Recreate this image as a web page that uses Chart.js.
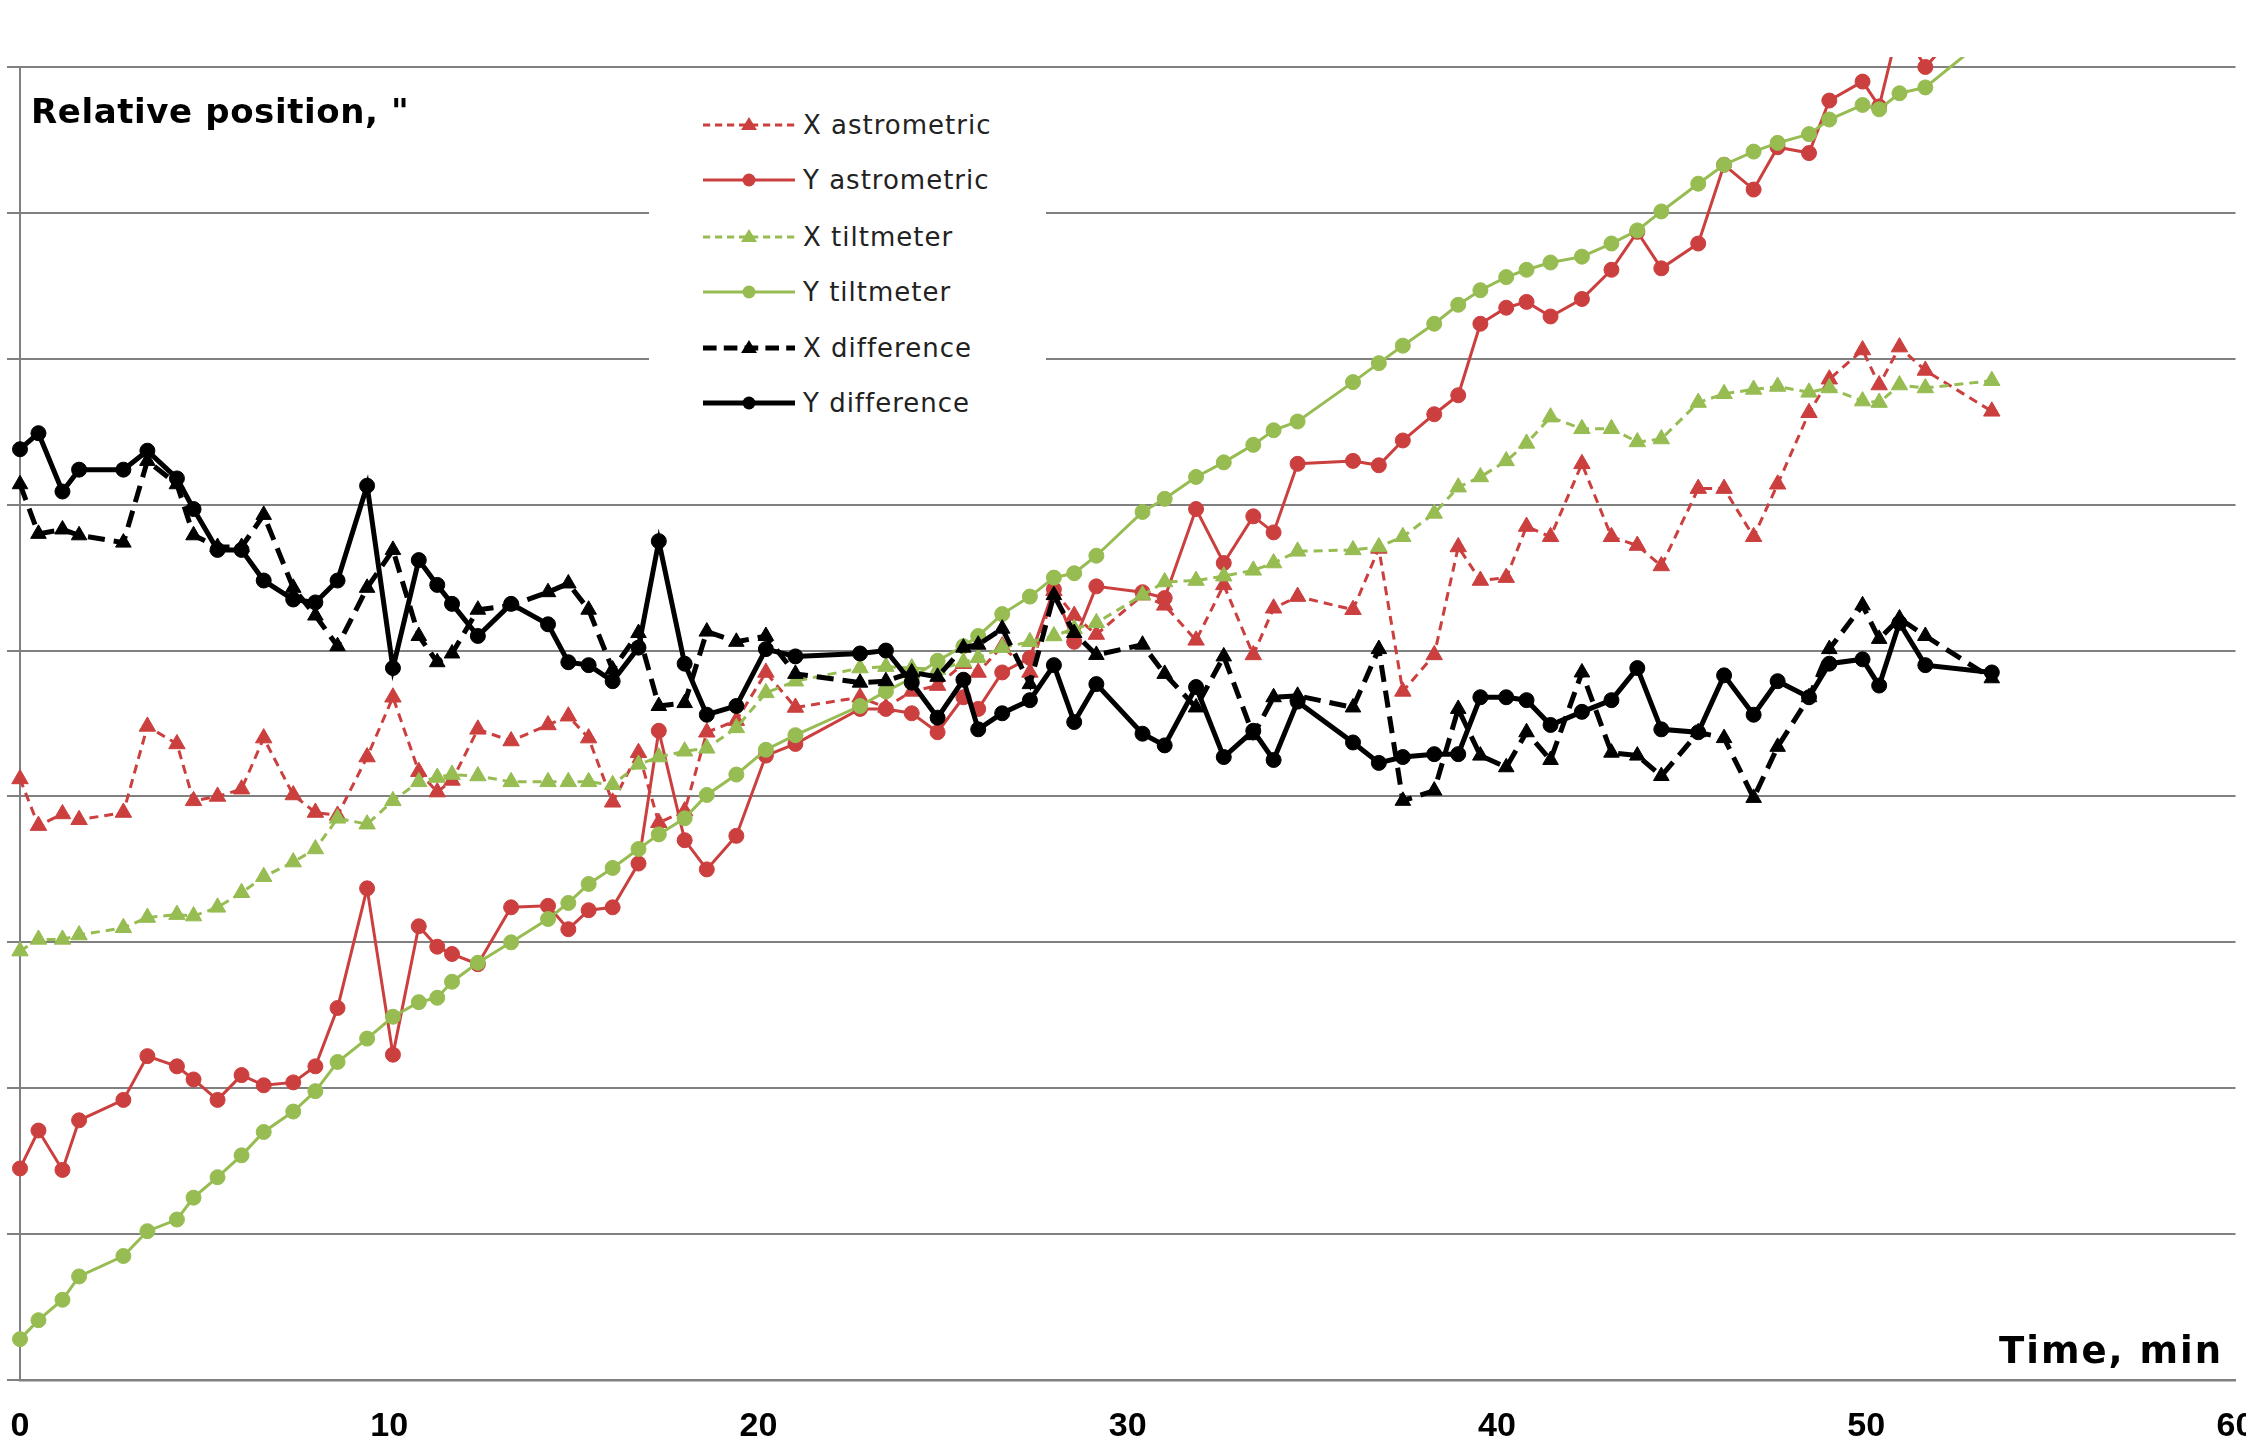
<!DOCTYPE html>
<html><head><meta charset="utf-8">
<script src="https://cdn.jsdelivr.net/npm/chart.js@4.4.1/dist/chart.umd.min.js"></script>
<style>
html,body{margin:0;padding:0;background:#fff;overflow:hidden;width:2246px;height:1440px;}
#wrap{position:relative;width:2246px;height:1440px;overflow:hidden;}
#c{position:absolute;left:0;top:0;}
#title{position:absolute;left:31px;top:94px;font:bold 34px "DejaVu Sans",sans-serif;letter-spacing:0.6px;line-height:34px;color:#000;white-space:nowrap;}
#xlab{position:absolute;left:1999px;top:1332px;font:bold 37px "DejaVu Sans",sans-serif;letter-spacing:2px;line-height:37px;color:#000;white-space:nowrap;}
#legend{position:absolute;left:649px;top:95px;width:397px;height:340px;background:#fff;}
.row{position:absolute;left:54px;height:40px;display:flex;align-items:center;}
.row svg{width:92px;height:24px;display:block;}
.row span{margin-left:8px;font:26px "DejaVu Sans",sans-serif;letter-spacing:1px;color:#222;white-space:nowrap;}
</style></head>
<body>
<div id="wrap">
<canvas id="c" width="2246" height="1440"></canvas>
<div id="title">Relative position, "</div>
<div id="xlab">Time, min</div>
<div id="legend"></div>
</div>
<script>
// ---- data ----
const times = [0, 0.5, 1.15, 1.6, 2.8, 3.45, 4.25, 4.7, 5.35, 6.0, 6.6, 7.4, 8.0, 8.6, 9.4,
  10.1, 10.8, 11.3, 11.7, 12.4, 13.3, 14.3, 14.85, 15.4, 16.05, 16.75, 17.3, 18.0, 18.6, 19.4,
  20.2, 21.0, 22.75, 23.45, 24.15, 24.85, 25.55, 25.95, 26.6, 27.35, 28.0, 28.55, 29.15,
  30.4, 31.0, 31.85, 32.6, 33.4, 33.95, 34.6, 36.1, 36.8, 37.45, 38.3, 38.95, 39.55,
  40.25, 40.8, 41.45, 42.3, 43.1, 43.8, 44.45, 45.45, 46.15, 46.95, 47.6, 48.45, 49.0, 49.9, 50.35, 50.9, 51.6, 53.4];

const xAstrometric = [4.12, 3.80, 3.88, 3.84, 3.89, 4.48, 4.36, 3.97, 4.00, 4.05, 4.40, 4.01, 3.89, 3.87, 4.27,
  4.68, 4.17, 4.03, 4.11, 4.46, 4.38, 4.49, 4.55, 4.40, 3.96, 4.30, 3.82, 3.90, 4.44, 4.52,
  4.85, 4.61, 4.68, 4.61, 4.72, 4.76, 4.91, 4.85, 5.03, 4.85, 5.41, 5.24, 5.11,
  5.38, 5.31, 5.07, 5.45, 4.97, 5.29, 5.37, 5.28, 5.70, 4.72, 4.97, 5.71, 5.48,
  5.50, 5.85, 5.78, 6.28, 5.78, 5.72, 5.58, 6.11, 6.11, 5.78, 6.14, 6.63, 6.86, 7.06, 6.82, 7.08, 6.92, 6.64];

const yAstrometric = [1.45, 1.71, 1.44, 1.78, 1.92, 2.22, 2.15, 2.06, 1.92, 2.09, 2.02, 2.04, 2.15, 2.55, 3.37,
  2.23, 3.11, 2.97, 2.92, 2.85, 3.24, 3.25, 3.09, 3.22, 3.24, 3.54, 4.45, 3.70, 3.50, 3.73,
  4.28, 4.36, 4.60, 4.60, 4.57, 4.44, 4.68, 4.60, 4.85, 4.95, 5.42, 5.06, 5.44,
  5.40, 5.36, 5.97, 5.60, 5.92, 5.81, 6.28, 6.30, 6.27, 6.44, 6.62, 6.75, 7.24,
  7.35, 7.39, 7.29, 7.41, 7.61, 7.87, 7.62, 7.79, 8.33, 8.16, 8.45, 8.41, 8.77, 8.90, 8.73, 9.30, 9.00, 9.50];

const xTiltmeter = [2.94, 3.02, 3.02, 3.05, 3.10, 3.17, 3.19, 3.18, 3.24, 3.34, 3.45, 3.55, 3.64, 3.85, 3.81,
  3.97, 4.10, 4.13, 4.15, 4.14, 4.10, 4.10, 4.10, 4.10, 4.08, 4.22, 4.27, 4.31, 4.33, 4.47,
  4.71, 4.79, 4.88, 4.89, 4.88, 4.87, 4.92, 4.95, 5.02, 5.06, 5.10, 5.15, 5.19,
  5.38, 5.47, 5.48, 5.51, 5.55, 5.60, 5.68, 5.69, 5.71, 5.78, 5.94, 6.12, 6.19,
  6.30, 6.42, 6.60, 6.52, 6.52, 6.43, 6.45, 6.70, 6.76, 6.79, 6.81, 6.77, 6.80, 6.71, 6.70, 6.82, 6.80, 6.85];

const yTiltmeter = [0.28, 0.41, 0.55, 0.71, 0.85, 1.02, 1.10, 1.25, 1.39, 1.54, 1.70, 1.84, 1.98, 2.18, 2.34,
  2.49, 2.59, 2.62, 2.73, 2.86, 3.00, 3.16, 3.27, 3.40, 3.51, 3.64, 3.74, 3.85, 4.01, 4.15,
  4.32, 4.42, 4.62, 4.72, 4.81, 4.93, 5.03, 5.10, 5.25, 5.37, 5.50, 5.53, 5.65,
  5.95, 6.04, 6.19, 6.29, 6.41, 6.51, 6.57, 6.84, 6.97, 7.09, 7.24, 7.37, 7.47,
  7.56, 7.61, 7.66, 7.70, 7.79, 7.88, 8.01, 8.20, 8.33, 8.42, 8.48, 8.54, 8.64, 8.74, 8.71, 8.82, 8.86, 9.23];

const xDifference = [6.14, 5.80, 5.83, 5.79, 5.74, 6.30, 6.14, 5.79, 5.71, 5.71, 5.93, 5.43, 5.24, 5.03, 5.43,
  5.69, 5.10, 4.92, 4.98, 5.28, 5.31, 5.40, 5.46, 5.28, 4.87, 5.12, 4.62, 4.64, 5.13, 5.06,
  5.10, 4.84, 4.78, 4.79, 4.85, 4.82, 5.02, 5.04, 5.15, 4.77, 5.38, 5.12, 4.97,
  5.04, 4.84, 4.61, 4.96, 4.42, 4.68, 4.69, 4.61, 5.01, 3.97, 4.04, 4.60, 4.28,
  4.20, 4.44, 4.25, 4.85, 4.30, 4.28, 4.14, 4.44, 4.40, 3.99, 4.34, 4.68, 5.01, 5.31, 5.08, 5.22, 5.10, 4.81];

const yDifference = [6.38, 6.49, 6.09, 6.24, 6.24, 6.37, 6.18, 5.97, 5.69, 5.69, 5.48, 5.35, 5.33, 5.48, 6.13,
  4.88, 5.62, 5.45, 5.32, 5.10, 5.32, 5.18, 4.92, 4.90, 4.79, 5.02, 5.75, 4.91, 4.56, 4.62,
  5.01, 4.96, 4.98, 5.00, 4.78, 4.54, 4.80, 4.46, 4.57, 4.66, 4.90, 4.51, 4.77,
  4.43, 4.35, 4.75, 4.27, 4.45, 4.25, 4.65, 4.37, 4.23, 4.27, 4.29, 4.29, 4.68,
  4.68, 4.66, 4.49, 4.58, 4.66, 4.88, 4.46, 4.44, 4.83, 4.56, 4.79, 4.68, 4.91, 4.94, 4.76, 5.19, 4.90, 4.85];

const seriesNames = ['X astrometric', 'Y astrometric', 'X tiltmeter', 'Y tiltmeter', 'X difference', 'Y difference'];
const xTickValues = [0, 10, 20, 30, 40, 50, 60];

// ---- styles ----
const RED = '#CB3F3E', GREEN = '#96BC52', BLACK = '#000000';
const styles = [
  {color: RED,   width: 3,   dash: [9, 6],  point: 'triangle', r: 9.5},
  {color: RED,   width: 3,   dash: [],      point: 'circle',   r: 7.5},
  {color: GREEN, width: 3,   dash: [9, 6],  point: 'triangle', r: 9.5},
  {color: GREEN, width: 3,   dash: [],      point: 'circle',   r: 7.5},
  {color: BLACK, width: 5,   dash: [17, 9], point: 'triangle', r: 9},
  {color: BLACK, width: 5,   dash: [],      point: 'circle',   r: 7.5}
];
const series = [xAstrometric, yAstrometric, xTiltmeter, yTiltmeter, xDifference, yDifference];

const datasets = series.map((vals, i) => ({
  label: seriesNames[i],
  data: times.map((t, k) => ({x: t, y: vals[k]})),
  borderColor: styles[i].color,
  backgroundColor: styles[i].color,
  borderWidth: styles[i].width,
  borderDash: styles[i].dash,
  pointStyle: styles[i].point,
  pointRadius: styles[i].r,
  pointHoverRadius: styles[i].r,
  pointBackgroundColor: styles[i].color,
  pointBorderColor: styles[i].color,
  pointBorderWidth: 1,
  tension: 0,
  fill: false,
  order: 6 - i,
  clip: 10
}));

const GRID = '#808080';
new Chart(document.getElementById('c'), {
  type: 'line',
  data: {datasets},
  options: {
    responsive: false,
    animation: false,
    devicePixelRatio: 1,
    layout: {padding: {top: 67, right: 3, left: 0, bottom: 0}},
    plugins: {legend: {display: false}, tooltip: {enabled: false}, title: {display: false}},
    scales: {
      x: {
        type: 'linear', min: 0, max: 60, position: 'bottom',
        afterBuildTicks: s => { s.ticks = xTickValues.map(v => ({value: v})); },
        ticks: {padding: 26, color: '#000', maxRotation: 0, autoSkip: false,
                font: {family: '"Liberation Sans Narrow","Liberation Sans",Arial,sans-serif', size: 34, weight: 'bold'}},
        grid: {drawOnChartArea: false, drawTicks: false},
        border: {display: true, color: GRID, width: 2.5},
        afterFit: s => { s.height = 60; s.paddingLeft = 0; s.paddingRight = 0; }
      },
      y: {
        min: 0, max: 9,
        ticks: {stepSize: 1, display: false},
        grid: {color: GRID, lineWidth: 2, tickLength: 13, drawTicks: true},
        border: {display: true, color: GRID, width: 2},
        afterFit: s => { s.width = 20; }
      }
    }
  }
});

// ---- legend (HTML overlay, built from the dataset styles) ----
const legend = document.getElementById('legend');
const rowCenters = [30, 85, 142, 197, 253, 308];
seriesNames.forEach((name, i) => {
  const st = styles[i];
  const row = document.createElement('div');
  row.className = 'row';
  row.style.top = (rowCenters[i] - 20) + 'px';
  const dash = st.dash.length ? `stroke-dasharray="${st.dash[0] * 0.8},${st.dash[1] * 0.8}"` : '';
  const marker = st.point === 'triangle'
    ? `<polygon points="46,4 38,17 54,17" fill="${st.color}"/>`
    : `<circle cx="46" cy="12" r="6.5" fill="${st.color}"/>`;
  row.innerHTML = `<svg viewBox="0 0 92 24"><line x1="0" y1="12" x2="92" y2="12" stroke="${st.color}" stroke-width="${st.width}" ${dash}/>${marker}</svg><span>${name}</span>`;
  legend.appendChild(row);
});
</script>
</body></html>
